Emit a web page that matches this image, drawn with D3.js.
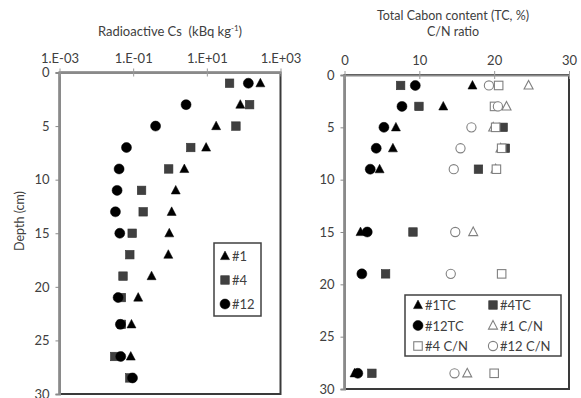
<!DOCTYPE html>
<html>
<head>
<meta charset="utf-8">
<script src="https://cdn.jsdelivr.net/npm/d3@7"></script>
<style>
  body { margin: 0; background: #fff; }
  svg { display: block; font-family: Lato, "Open Sans", sans-serif; }
</style>
</head>
<body>
<div id="chart"></div>
<script>
// left panel: radioactive Cs (kBq/kg) by depth
const csDepth = [1, 3, 5, 7, 9, 11, 13, 15, 17, 19, 21, 23.5, 26.5, 28.5];
const cs1 = [284, 81, 17.9, 9.56, 2.45, 1.43, 1.11, 0.956, 0.9, 0.316, 0.137, 0.09, 0.086, null];
const cs4 = [41.4, 145, 61.7, 3.66, 0.92, 0.169, 0.187, 0.094, 0.081, 0.053, 0.048, 0.048, 0.0316, 0.081];
const cs12 = [134, 2.73, 0.406, 0.0658, 0.0415, 0.0366, 0.033, 0.0433, null, null, 0.039, 0.045, 0.046, 0.096];
const csTicks = [1e-3, 1e-1, 1e1, 1e3];
const csTickLabels = ['1.E-03', '1.E-01', '1.E+01', '1.E+03'];

// right panel: total carbon and C/N ratio by depth
const tcDepth = [1, 3, 5, 7, 9, 15, 19, 28.5];
const tc1 = [17.1, 13.2, 6.87, 6.47, 4.69, 2.14, null, 1.34];
const tc4 = [7.5, 9.95, 21.2, 21.5, 17.9, 9.15, 5.49, 3.66];
const tc12 = [9.46, 7.68, 5.27, 4.24, 3.44, 3.04, 2.32, 1.78];
const cn1 = [24.6, 21.65, 19.87, 20.85, 20.2, 17.2, null, 16.4];
const cn4 = [20.6, 20.05, 20.2, 21.0, 20.3, null, 21.0, 20.0];
const cn12 = [19.3, 20.5, 16.96, 15.5, 14.6, 14.8, 14.2, 14.7];
const depthTicks = [0, 5, 10, 15, 20, 25, 30];

const width = 581, height = 398;
const svg = d3.select('#chart').append('svg').attr('width', width).attr('height', height);

const FILL_SQ = '#404040';
const OPEN = '#808080';
const TXT = '#404040';

function marker(g, shape, filled, x, y) {
  if (shape === 'tri') {
    const s = 9;
    g.append('path')
      .attr('d', `M${x},${y - s * 0.55}L${x + s / 2},${y + s * 0.4}L${x - s / 2},${y + s * 0.4}Z`)
      .attr('fill', filled ? '#000' : '#fff')
      .attr('stroke', filled ? '#000' : OPEN)
      .attr('stroke-width', filled ? 0.5 : 1.1);
  } else if (shape === 'sq') {
    const s = 8.5;
    g.append('rect')
      .attr('x', x - s / 2).attr('y', y - s / 2).attr('width', s).attr('height', s)
      .attr('fill', filled ? FILL_SQ : '#fff')
      .attr('stroke', filled ? '#333' : OPEN)
      .attr('stroke-width', filled ? 0.6 : 1.1);
  } else {
    g.append('circle')
      .attr('cx', x).attr('cy', y).attr('r', filled ? 5 : 4.6)
      .attr('fill', filled ? '#000' : '#fff')
      .attr('stroke', filled ? '#000' : OPEN)
      .attr('stroke-width', filled ? 0.5 : 1.1);
  }
}

function panel(x0, x1, y0, y1, xScale, xTicks, xFmt) {
  const yScale = d3.scaleLinear().domain([0, 30]).range([y0, y1]);
  const g = svg.append('g');

  // outer frame
  g.append('rect')
    .attr('x', x0).attr('y', y0).attr('width', x1 - x0).attr('height', y1 - y0)
    .attr('fill', 'none').attr('stroke', '#3a3a3a').attr('stroke-width', 2);

  // depth axis (left)
  const ya = g.append('g')
    .attr('transform', `translate(${x0},0)`)
    .call(d3.axisLeft(yScale).tickValues(depthTicks).tickSize(4).tickPadding(6));
  ya.select('.domain').attr('stroke', '#8a8a8a').attr('stroke-width', 2);
  ya.selectAll('.tick line').attr('stroke', '#8a8a8a');
  ya.selectAll('text').attr('font-size', 13).attr('fill', TXT).attr('font-family', 'Lato, sans-serif');

  // top axis
  const xa = g.append('g')
    .attr('transform', `translate(0,${y0})`)
    .call(d3.axisTop(xScale).tickValues(xTicks).tickFormat(xFmt).tickSizeInner(-4).tickSizeOuter(0).tickPadding(10));
  xa.select('.domain').attr('stroke', '#8a8a8a').attr('stroke-width', 2);
  xa.selectAll('.tick line').attr('stroke', '#9a9a9a').attr('y1', -4).attr('y2', 4);
  xa.selectAll('text').attr('font-size', 13).attr('fill', TXT).attr('font-family', 'Lato, sans-serif');

  return { g, yScale };
}

// ---- left panel
const xCs = d3.scaleLog().domain([1e-3, 1e3]).range([59.5, 280.5]);
const left = panel(59.5, 280.5, 72.5, 394, xCs, csTicks, (d, i) => csTickLabels[i]);

const csSeries = [
  { vals: cs1, shape: 'tri' },
  { vals: cs4, shape: 'sq' },
  { vals: cs12, shape: 'circ' },
];
csSeries.forEach(s => {
  s.vals.forEach((v, i) => {
    if (v == null) return;
    marker(left.g, s.shape, true, xCs(v), left.yScale(csDepth[i]));
  });
});

svg.append('text')
  .attr('x', 170).attr('y', 36).attr('text-anchor', 'middle')
  .attr('font-size', 13).attr('fill', TXT)
  .html('Radioactive Cs&#160;&#160;(kBq kg<tspan font-size="8" dy="-5">-1</tspan><tspan dy="5">)</tspan>');

svg.append('text')
  .attr('transform', 'translate(24,221) rotate(-90)')
  .attr('text-anchor', 'middle').attr('font-size', 12.5).attr('fill', TXT)
  .text('Depth (cm)');

// left legend
const lg = svg.append('g');
lg.append('rect').attr('x', 214).attr('y', 243).attr('width', 47).attr('height', 73)
  .attr('fill', '#fff').attr('stroke', '#404040').attr('stroke-width', 1.5);
[['tri', '#1'], ['sq', '#4'], ['circ', '#12']].forEach((e, i) => {
  const y = 256 + i * 24;
  marker(lg, e[0], true, 225, y);
  lg.append('text').attr('x', 232).attr('y', y + 5).attr('font-size', 13).attr('fill', TXT).text(e[1]);
});

// ---- right panel
const xTc = d3.scaleLinear().domain([0, 30]).range([344.5, 569]);
const right = panel(344.5, 569, 75, 389, xTc, [0, 10, 20, 30], d3.format('d'));

const tcSeries = [
  { vals: tc1, shape: 'tri', filled: true },
  { vals: tc4, shape: 'sq', filled: true },
  { vals: tc12, shape: 'circ', filled: true },
  { vals: cn1, shape: 'tri', filled: false },
  { vals: cn4, shape: 'sq', filled: false },
  { vals: cn12, shape: 'circ', filled: false },
];
tcSeries.forEach(s => {
  s.vals.forEach((v, i) => {
    if (v == null) return;
    marker(right.g, s.shape, s.filled, xTc(v), right.yScale(tcDepth[i]));
  });
});

svg.append('text').attr('x', 453).attr('y', 19.5).attr('text-anchor', 'middle')
  .attr('font-size', 12.5).attr('fill', TXT).text('Total Cabon content (TC, %)');
svg.append('text').attr('x', 453).attr('y', 35.5).attr('text-anchor', 'middle')
  .attr('font-size', 12.5).attr('fill', TXT).text('C/N ratio');

// right legend
const rg = svg.append('g');
rg.append('rect').attr('x', 405).attr('y', 295).attr('width', 156).attr('height', 61)
  .attr('fill', '#fff').attr('stroke', '#404040').attr('stroke-width', 1.5);
const legendItems = [
  ['tri', true, '#1TC'], ['sq', true, '#4TC'],
  ['circ', true, '#12TC'], ['tri', false, '#1 C/N'],
  ['sq', false, '#4 C/N'], ['circ', false, '#12 C/N'],
];
legendItems.forEach((e, i) => {
  const col = i % 2, row = Math.floor(i / 2);
  const mx = col === 0 ? 418 : 493;
  const y = 305 + row * 20.5;
  marker(rg, e[0], e[1], mx, y);
  rg.append('text').attr('x', mx + 7).attr('y', y + 5).attr('font-size', 13).attr('fill', TXT).text(e[2]);
});
</script>
</body>
</html>
